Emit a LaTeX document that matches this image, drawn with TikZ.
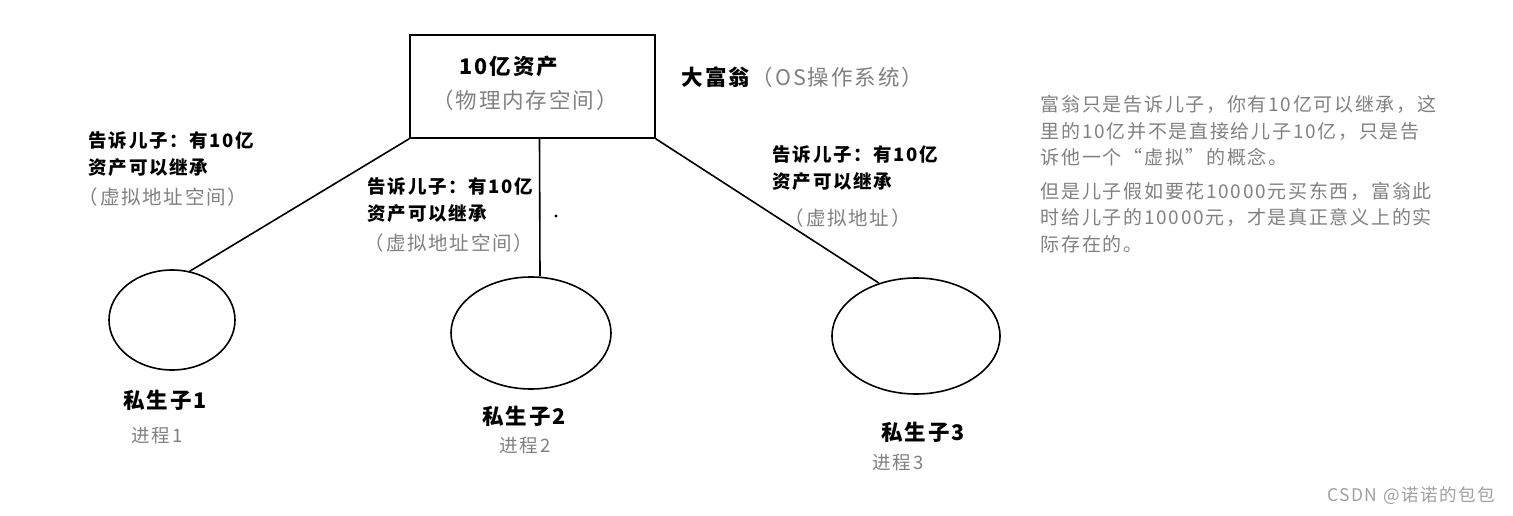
\documentclass[tikz,border=0pt]{standalone}
\usepackage{fontspec}
\setmainfont[LetterSpace=9]{Noto Sans CJK SC}
\usepackage{xcolor}
\usetikzlibrary{shapes.geometric}
\definecolor{hint}{HTML}{808080}
\definecolor{mark}{HTML}{A0A0A0}
\def\bigfont{\fontsize{18.5}{27}\selectfont}
\def\headfont{\fontsize{21.5}{27}\selectfont}

\begin{document}
\begin{tikzpicture}[x=1pt,y=-1pt,line width=1.6pt,
    say/.style={font=\bigfont\bfseries,align=left,inner sep=0pt},
    note/.style={font=\bigfont,text=hint,inner sep=0pt},
    son/.style={draw,ellipse,inner sep=0pt},
    sonname/.style={font=\headfont\bfseries,inner sep=0pt}]
    \useasboundingbox (0,0) rectangle (1513,516);
    % the fortune (memory)
    \node[draw,minimum width=245pt,minimum height=103pt] (box) at (532.5,86.5) {};
    \node[say,font=\headfont\bfseries,anchor=west] (money) at (459,66) {10亿资产};
    \node[note,font=\headfont] (phys) at (525,100) {（物理内存空间）};
    \node[say,font=\headfont\bfseries,anchor=west] (rich) at (681,77) {大富翁};
    \node[note,font=\headfont,anchor=west] (os) at (rich.east) {（OS操作系统）};
      % the three sons
    \node[son,minimum width=126pt,minimum height=100pt] (p1) at (172,320) {};
    \node[son,minimum width=160pt,minimum height=112pt] (p2) at (531,333) {};
    \node[son,minimum width=168pt,minimum height=116pt] (p3) at (916,336) {};
    \draw (box.south west) -- (p1.70);
    \draw ([xshift=7pt]box.south) -- ([xshift=9pt]p2.north);
    \draw (box.south east) -- (p3.125);
    \fill (556,216) circle (1.6pt);
      % what each son is told
    \node[say,anchor=north west] (tell1) at (88,131) {告诉儿子：有10亿\\资产可以继承};
    \node[note,font=\fontsize{19.5}{24}\selectfont,anchor=west] (v1) at (78,197) {（虚拟地址空间）};
    \node[say,anchor=north west] (tell2) at (367,177) {告诉儿子：有10亿\\资产可以继承};
    \node[note,font=\fontsize{19.5}{24}\selectfont,anchor=west] (v2) at (364,243) {（虚拟地址空间）};
    \node[say,anchor=north west] (tell3) at (772,145) {告诉儿子：有10亿\\资产可以继承};
    \node[note,font=\fontsize{19.5}{24}\selectfont,anchor=west] (v3) at (784,218) {（虚拟地址）};
      % names
    \node[sonname] (n1) at (165,400) {私生子1};
    \node[note] (q1) at (157,436) {进程1};
    \node[sonname] (n2) at (524,416) {私生子2};
    \node[note] (q2) at (525,446) {进程2};
    \node[sonname] (n3) at (923,432) {私生子3};
    \node[note] (q3) at (898,463) {进程3};
      % explanation
    \node[note,font=\fontsize{19}{26.5}\selectfont,align=left,anchor=north west] (why) at (1040,95)
      {富翁只是告诉儿子，你有10亿可以继承，这\\里的10亿并不是直接给儿子10亿，只是告\\诉他一个“虚拟”的概念。\\[7pt]
       但是儿子假如要花10000元买东西，富翁此\\时给儿子的10000元，才是真正意义上的实\\际存在的。};
    \node[text=mark,font=\fontsize{17.5}{20}\selectfont,inner sep=0pt] (csdn) at (1411,496) {CSDN @诺诺的包包};
\end{tikzpicture}
\end{document}
